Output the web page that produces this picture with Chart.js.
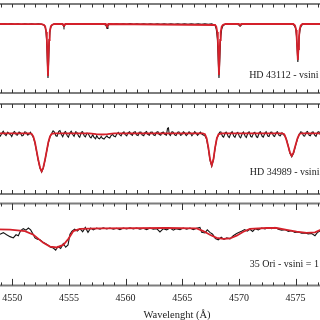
<!DOCTYPE html>
<html><head><meta charset="utf-8">
<script src="https://cdn.jsdelivr.net/npm/chart.js@4.4.1/dist/chart.umd.min.js"></script>
<style>
html,body{margin:0;padding:0;width:320px;height:320px;overflow:hidden;background:#fff;}
.p{position:absolute;left:-20px;width:394px;}
</style></head><body>
<div class="p" style="top:1px;height:95px"><canvas id="c1"></canvas></div>
<div class="p" style="top:101px;height:96px"><canvas id="c2"></canvas></div>
<div class="p" style="top:200px;height:123px"><canvas id="c3"></canvas></div>
<script>
// Wavelength axis (Å)
const xMin = 4547.15, xMax = 4581.92;
const tickLabels = [4550, 4555, 4560, 4565, 4570, 4575, 4580];
const axisTitle = 'Wavelenght (Å)';
const starNames = ['HD 43112 - vsini', 'HD 34989 - vsini', '35 Ori - vsini = 1'];

// HD 43112 observed [λ, flux]
const hd43112Obs = [[4548.7,1.002],[4549.0,0.997],[4549.3,1.003],[4549.6,0.996],[4549.9,1.004],[4550.2,0.998],[4550.5,1.002],[4550.8,0.995],[4551.1,1.003],[4551.4,0.998],[4551.7,1.001],[4552.0,0.996],[4552.3,1.003],[4552.6,0.997],[4552.85,0.985],[4552.95,0.95],[4553.03,0.84],[4553.09,0.63],[4553.15,0.46],[4553.21,0.63],[4553.27,0.84],[4553.35,0.95],[4553.45,0.985],[4553.7,1.002],[4554.0,0.997],[4554.3,1.003],[4554.48,0.99],[4554.56,0.968],[4554.64,0.99],[4554.8,1.002],[4555.1,0.997],[4555.4,1.003],[4555.7,0.998],[4556.0,1.002],[4556.3,0.996],[4556.6,1.003],[4556.9,0.997],[4557.2,1.002],[4557.5,0.997],[4557.8,1.003],[4558.1,0.997],[4558.28,0.985],[4558.36,0.955],[4558.44,0.985],[4558.6,1.002],[4558.9,0.996],[4559.2,1.003],[4559.5,0.997],[4559.8,1.002],[4560.1,0.996],[4560.4,1.004],[4560.7,0.997],[4561.0,1.002],[4561.3,0.996],[4561.6,1.003],[4561.9,0.998],[4562.2,1.002],[4562.5,0.996],[4562.8,1.003],[4563.1,0.997],[4563.4,1.002],[4563.7,0.996],[4564.0,1.003],[4564.3,0.998],[4564.6,1.002],[4564.9,0.996],[4565.2,1.003],[4565.5,0.997],[4565.8,1.002],[4566.1,0.996],[4566.4,1.003],[4566.7,0.997],[4567.0,1.002],[4567.3,0.997],[4567.6,1.002],[4567.9,0.985],[4568.0,0.95],[4568.1,0.85],[4568.17,0.64],[4568.24,0.46],[4568.31,0.64],[4568.38,0.85],[4568.48,0.95],[4568.6,0.985],[4568.9,1.002],[4569.2,0.997],[4569.5,1.003],[4569.8,0.997],[4570.0,0.99],[4570.1,0.978],[4570.2,0.99],[4570.4,1.002],[4570.7,0.997],[4571.0,1.003],[4571.3,0.997],[4571.6,1.002],[4571.9,0.996],[4572.2,1.003],[4572.5,0.997],[4572.8,1.002],[4573.1,0.996],[4573.4,1.003],[4573.7,0.997],[4574.0,1.002],[4574.3,0.996],[4574.6,1.003],[4574.85,0.99],[4575.0,0.96],[4575.08,0.88],[4575.14,0.74],[4575.2,0.62],[4575.26,0.74],[4575.32,0.88],[4575.42,0.96],[4575.55,0.99],[4575.8,1.002],[4576.1,0.997],[4576.4,1.003],[4576.7,0.997],[4577.0,1.002],[4577.4,0.998]];
// HD 43112 model
const hd43112Model = [[4548.7,1.0],[4552.6,0.999],[4552.8,0.99],[4552.9,0.975],[4553.0,0.92],[4553.05,0.84],[4553.1,0.68],[4553.15,0.48],[4553.2,0.68],[4553.25,0.84],[4553.3,0.92],[4553.4,0.975],[4553.5,0.99],[4553.7,1.0],[4554.45,1.0],[4554.56,0.982],[4554.67,1.0],[4558.25,1.0],[4558.36,0.975],[4558.47,1.0],[4567.9,0.99],[4568.0,0.975],[4568.09,0.92],[4568.14,0.84],[4568.19,0.68],[4568.24,0.49],[4568.29,0.68],[4568.34,0.84],[4568.39,0.92],[4568.48,0.975],[4568.58,0.99],[4568.8,1.0],[4570.0,1.0],[4570.1,0.987],[4570.2,1.0],[4574.8,1.0],[4574.95,0.985],[4575.05,0.94],[4575.1,0.86],[4575.15,0.75],[4575.2,0.64],[4575.25,0.75],[4575.3,0.86],[4575.35,0.94],[4575.45,0.985],[4575.6,1.0],[4577.6,1.0]];

// HD 34989 observed
const hd34989Obs = [[4548.7,1.012],[4548.85,0.985],[4548.95,0.972],[4549.1,1.005],[4549.2,1.02],[4549.35,0.99],[4549.45,0.978],[4549.6,1.012],[4549.7,1.0],[4549.85,0.985],[4549.95,0.968],[4550.1,1.01],[4550.2,1.018],[4550.35,0.985],[4550.45,0.982],[4550.6,1.012],[4550.7,1.006],[4550.85,0.975],[4550.95,0.978],[4551.1,1.015],[4551.2,1.012],[4551.35,0.982],[4551.45,0.988],[4551.6,1.01],[4551.7,0.99],[4551.85,0.96],[4552.0,0.905],[4552.15,0.815],[4552.3,0.725],[4552.45,0.65],[4552.59,0.612],[4552.73,0.65],[4552.88,0.728],[4553.03,0.82],[4553.18,0.905],[4553.33,0.965],[4553.48,1.0],[4553.6,1.025],[4553.7,1.015],[4553.85,0.975],[4553.95,0.97],[4554.1,1.02],[4554.2,1.028],[4554.35,0.985],[4554.45,0.965],[4554.6,1.01],[4554.7,1.018],[4554.85,0.975],[4554.95,0.962],[4555.1,1.008],[4555.2,1.02],[4555.35,0.985],[4555.45,0.97],[4555.6,1.015],[4555.7,1.01],[4555.85,0.972],[4555.95,0.96],[4556.1,1.012],[4556.2,1.016],[4556.35,0.975],[4556.45,0.965],[4556.6,1.002],[4556.7,0.995],[4556.85,0.965],[4556.95,0.955],[4557.1,0.985],[4557.2,0.962],[4557.35,0.945],[4557.45,0.975],[4557.6,0.95],[4557.7,0.945],[4557.85,0.968],[4557.95,0.95],[4558.1,0.942],[4558.2,0.958],[4558.35,0.975],[4558.45,0.96],[4558.6,0.952],[4558.7,0.975],[4558.85,0.99],[4558.95,0.972],[4559.1,0.965],[4559.2,0.988],[4559.35,1.008],[4559.45,0.99],[4559.6,0.975],[4559.7,1.0],[4559.85,1.015],[4559.95,0.99],[4560.1,0.975],[4560.2,1.005],[4560.35,1.015],[4560.45,0.992],[4560.6,0.98],[4560.7,1.008],[4560.85,1.016],[4560.95,0.985],[4561.1,0.978],[4561.2,1.01],[4561.35,1.012],[4561.45,0.985],[4561.6,0.975],[4561.7,1.006],[4561.85,1.018],[4561.95,0.99],[4562.1,0.98],[4562.2,1.01],[4562.35,1.012],[4562.45,0.985],[4562.6,0.978],[4562.7,1.008],[4562.85,1.015],[4562.95,0.99],[4563.1,0.98],[4563.2,1.008],[4563.35,1.012],[4563.45,0.99],[4563.6,0.982],[4563.7,1.05],[4563.78,1.055],[4563.85,0.99],[4563.95,0.978],[4564.1,1.015],[4564.2,1.01],[4564.35,0.982],[4564.45,0.978],[4564.6,1.012],[4564.7,1.015],[4564.85,0.98],[4564.95,0.985],[4565.1,1.014],[4565.2,1.006],[4565.35,0.978],[4565.45,0.99],[4565.6,1.015],[4565.7,1.005],[4565.85,0.975],[4565.95,0.99],[4566.1,1.016],[4566.2,1.004],[4566.35,0.98],[4566.45,0.995],[4566.6,1.012],[4566.75,0.99],[4566.9,0.98],[4567.0,0.975],[4567.15,0.94],[4567.3,0.85],[4567.45,0.73],[4567.6,0.672],[4567.75,0.735],[4567.9,0.855],[4568.05,0.95],[4568.2,0.985],[4568.3,1.012],[4568.4,1.015],[4568.55,0.97],[4568.65,0.962],[4568.8,1.008],[4568.9,1.012],[4569.05,0.968],[4569.15,0.958],[4569.3,1.005],[4569.4,1.015],[4569.55,0.972],[4569.65,0.96],[4569.8,1.002],[4569.9,1.01],[4570.05,0.965],[4570.15,0.955],[4570.3,1.0],[4570.4,1.012],[4570.55,0.97],[4570.65,0.958],[4570.8,1.006],[4570.9,1.014],[4571.05,0.968],[4571.15,0.962],[4571.3,1.004],[4571.4,1.01],[4571.55,0.965],[4571.65,0.958],[4571.8,1.008],[4571.9,1.014],[4572.05,0.97],[4572.15,0.962],[4572.3,1.006],[4572.4,1.016],[4572.55,0.972],[4572.65,0.968],[4572.8,1.01],[4572.9,1.012],[4573.05,0.975],[4573.15,0.968],[4573.3,1.01],[4573.4,1.015],[4573.55,0.978],[4573.65,0.975],[4573.8,1.005],[4573.9,0.99],[4574.05,0.975],[4574.2,0.935],[4574.35,0.875],[4574.5,0.8],[4574.66,0.765],[4574.82,0.8],[4575.0,0.88],[4575.17,0.945],[4575.32,0.985],[4575.45,1.015],[4575.55,1.012],[4575.7,0.975],[4575.8,0.972],[4575.95,1.012],[4576.05,1.018],[4576.2,0.98],[4576.3,0.975],[4576.45,1.01],[4576.55,1.014],[4576.7,0.978],[4576.8,0.97],[4576.95,1.012],[4577.05,1.016],[4577.2,0.982],[4577.3,0.978],[4577.45,1.01],[4577.55,1.005]];
// HD 34989 model
const hd34989Model = [[4548.7,1.0],[4551.5,1.0],[4551.7,0.995],[4551.85,0.97],[4552.0,0.91],[4552.15,0.82],[4552.3,0.73],[4552.45,0.655],[4552.59,0.62],[4552.73,0.655],[4552.88,0.73],[4553.03,0.82],[4553.18,0.91],[4553.33,0.97],[4553.48,0.995],[4553.7,1.0],[4556.8,1.0],[4557.4,0.992],[4557.9,0.988],[4558.4,0.992],[4559.0,1.0],[4566.8,1.0],[4567.0,0.99],[4567.15,0.95],[4567.3,0.86],[4567.45,0.74],[4567.6,0.68],[4567.75,0.74],[4567.9,0.86],[4568.05,0.95],[4568.2,0.99],[4568.45,1.0],[4573.8,1.0],[4574.0,0.99],[4574.15,0.95],[4574.3,0.89],[4574.5,0.81],[4574.66,0.775],[4574.82,0.81],[4575.02,0.89],[4575.17,0.95],[4575.32,0.99],[4575.5,1.0],[4577.6,1.0]];

// 35 Ori observed
const ori35Obs = [[4548.7,0.94],[4548.92,0.933],[4549.21,0.95],[4549.5,0.927],[4549.8,0.907],[4550.09,0.893],[4550.33,0.927],[4550.53,0.917],[4550.74,0.973],[4550.97,0.993],[4551.21,0.977],[4551.42,1.0],[4551.62,0.98],[4551.8,0.94],[4552.0,0.893],[4552.21,0.88],[4552.44,0.873],[4552.68,0.85],[4552.92,0.833],[4553.18,0.813],[4553.39,0.793],[4553.62,0.783],[4553.83,0.76],[4554.03,0.8],[4554.27,0.78],[4554.5,0.833],[4554.71,0.793],[4554.92,0.817],[4555.09,0.933],[4555.27,0.967],[4555.5,0.987],[4555.74,0.967],[4555.97,0.993],[4556.21,0.96],[4556.44,1.007],[4556.68,0.953],[4556.92,1.0],[4557.15,0.98],[4557.44,1.0],[4557.74,0.987],[4558.03,1.003],[4558.33,0.99],[4558.62,1.0],[4558.92,0.987],[4559.21,0.997],[4559.5,0.983],[4559.8,1.0],[4560.09,0.99],[4560.39,1.003],[4560.68,0.99],[4560.97,1.0],[4561.27,0.987],[4561.56,0.997],[4561.86,0.983],[4562.15,1.0],[4562.44,0.987],[4562.74,0.993],[4563.03,0.957],[4563.33,0.993],[4563.62,0.98],[4563.92,1.0],[4564.21,0.977],[4564.44,0.993],[4564.8,0.983],[4565.09,1.0],[4565.39,0.987],[4565.68,1.0],[4565.97,0.983],[4566.27,0.997],[4566.56,1.007],[4566.71,0.953],[4567.0,0.947],[4567.21,0.98],[4567.44,0.953],[4567.68,0.933],[4567.92,0.887],[4568.18,0.873],[4568.44,0.9],[4568.68,0.877],[4568.92,0.893],[4569.21,0.883],[4569.5,0.917],[4569.8,0.94],[4570.03,0.953],[4570.27,0.967],[4570.5,0.983],[4570.74,0.967],[4570.97,0.987],[4571.21,0.963],[4571.44,0.993],[4571.71,0.98],[4572.0,1.0],[4572.3,0.99],[4572.59,1.003],[4572.89,0.993],[4573.18,1.007],[4573.47,0.987],[4573.77,0.977],[4574.06,0.983],[4574.36,0.963],[4574.65,0.97],[4574.94,0.953],[4575.24,0.957],[4575.53,0.943],[4575.83,0.947],[4576.12,0.937],[4576.42,0.94],[4576.71,0.917],[4576.92,0.95],[4577.15,0.967],[4577.5,0.975]];
// 35 Ori model
const ori35Model = [[4548.7,0.985],[4549.8,0.983],[4551.12,0.967],[4551.86,0.927],[4552.74,0.84],[4553.33,0.8],[4553.92,0.79],[4554.5,0.817],[4554.95,0.883],[4555.39,0.967],[4555.97,0.99],[4557.74,0.997],[4563.62,1.0],[4566.27,0.997],[4566.85,0.967],[4567.44,0.927],[4568.03,0.893],[4568.62,0.883],[4569.21,0.887],[4569.8,0.917],[4570.39,0.96],[4570.97,0.99],[4572.44,1.0],[4573.32,1.0],[4574.21,0.98],[4575.09,0.96],[4575.97,0.947],[4576.71,0.953],[4577.15,0.977],[4577.6,0.99]];

// label anchor (λ, flux) per panel
const labelWave = [4570.9, 4570.95, 4570.95];
const labelFlux = [0.49, 0.61, 0.61];

const SERIF = '"Liberation Serif", "DejaVu Serif", serif';
const toPts = a => a.map(d => ({x: d[0], y: d[1]}));

const framePlugin = {
  id: 'frame',
  afterDraw(chart, args, o) {
    const {ctx, chartArea: a, scales} = chart;
    const x = scales.x, y = scales.y;
    ctx.save();
    ctx.strokeStyle = '#7d7d7d';
    ctx.lineWidth = 2;
    ctx.beginPath();
    ctx.moveTo(a.left, a.top); ctx.lineTo(a.right, a.top);
    ctx.moveTo(a.left, a.bottom); ctx.lineTo(a.right, a.bottom);
    ctx.stroke();
    ctx.strokeStyle = '#333';
    ctx.lineWidth = 1;
    ctx.beginPath();
    for (let v = Math.ceil(x.min); v <= x.max; v++) {
      const px = Math.round(x.getPixelForValue(v)) + 0.5;
      const len = (v % 5 === 0) ? o.major : o.minor;
      ctx.moveTo(px, a.top); ctx.lineTo(px, a.top + len);
      ctx.moveTo(px, a.bottom); ctx.lineTo(px, a.bottom - len);
    }
    ctx.stroke();
    ctx.font = '10px ' + SERIF;
    ctx.fillStyle = '#222';
    ctx.textAlign = 'left';
    ctx.textBaseline = 'middle';
    ctx.fillText(o.text, x.getPixelForValue(o.lx), y.getPixelForValue(o.ly));
    ctx.restore();
  }
};

function makePanel(id, obs, model, yMin, yMax, idx, bottomAxis, pad, minor, major) {
  return new Chart(document.getElementById(id), {
    type: 'line',
    data: {
      datasets: [
        {data: toPts(obs), borderColor: '#151515', borderWidth: 1.1, pointRadius: 0, tension: 0, order: 2},
        {data: toPts(model), borderColor: '#d4202a', borderWidth: 1.8, pointRadius: 0, tension: 0, order: 1}
      ]
    },
    options: {
      responsive: true,
      maintainAspectRatio: false,
      animation: false,
      events: [],
      layout: {padding: pad},
      plugins: {
        legend: {display: false},
        tooltip: {enabled: false},
        frame: {text: starNames[idx], lx: labelWave[idx], ly: labelFlux[idx], minor: minor, major: major}
      },
      scales: {
        x: {
          type: 'linear', min: xMin, max: xMax,
          display: bottomAxis,
          grid: {display: false, drawTicks: false},
          border: {display: false},
          afterBuildTicks: (axis) => { axis.ticks = tickLabels.map(v => ({value: v})); },
          ticks: {autoSkip: false, maxRotation: 0, padding: 7, color: '#222', font: {family: SERIF, size: 10},
                  callback: (v) => String(v)},
          title: {display: true, text: axisTitle, color: '#222', padding: {top: -2, bottom: 1}, font: {family: SERIF, size: 10.5}}
        },
        y: {type: 'linear', min: yMin, max: yMax, display: false}
      }
    },
    plugins: [framePlugin]
  });
}

makePanel('c1', hd43112Obs, hd43112Model, 0.31, 1.20, 0, false, {top: 3, bottom: 3, left: 0, right: 0}, 3.5, 3.5);
makePanel('c2', hd34989Obs, hd34989Model, 0.393, 1.293, 1, false, {top: 3, bottom: 3, left: 0, right: 0}, 4, 4);
makePanel('c3', ori35Obs, ori35Model, 0.38, 1.265, 2, true, {top: 3.5, bottom: 0, left: 0, right: 0}, 3, 6.5);
</script>
</body></html>
